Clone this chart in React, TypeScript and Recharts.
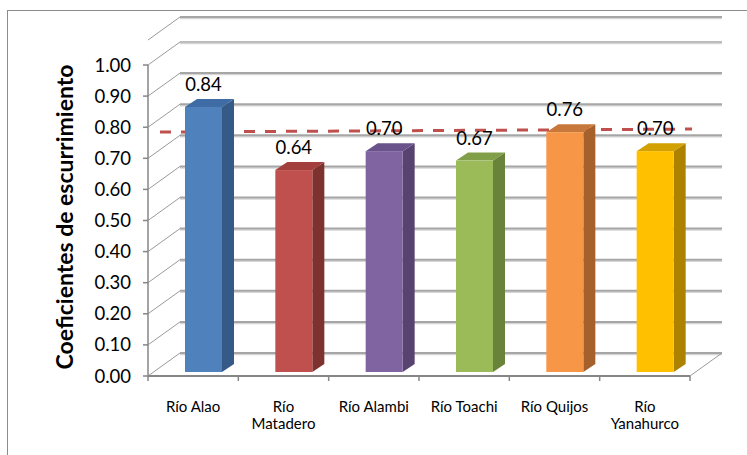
import React from 'react';
import {
  ComposedChart,
  Bar,
  XAxis,
  YAxis,
  CartesianGrid,
  ReferenceLine,
  LabelList,
} from 'recharts';

// ---- data ----
const categories = ['Río Alao', 'Río Matadero', 'Río Alambi', 'Río Toachi', 'Río Quijos', 'Río Yanahurco'];
const coefficients = [0.84, 0.64, 0.7, 0.67, 0.76, 0.7];
const yTicks = [0, 0.1, 0.2, 0.3, 0.4, 0.5, 0.6, 0.7, 0.8, 0.9, 1.0];
const averageCoefficient = 0.72;
const yTitle = 'Coeficientes de escurrimiento';

// ---- styles ----
const frontColors = ['#4F81BD', '#C0504D', '#8064A2', '#9BBB59', '#F79646', '#FFC000'];
const topColors = ['#3F6CA4', '#A3403D', '#6A528A', '#819E48', '#C8783A', '#D2A000'];
const sideColors = ['#355A87', '#7E3230', '#58426F', '#6A833A', '#A5602C', '#AD8200'];
const FONT = 'Lato, "Open Sans", sans-serif';
const AXIS_GRAY = '#868686';
const GRID_GRAY = '#A6A6A6';
const WALL_DX = 32;
const WALL_DY = -23;
const BAR_SHIFT = 10;
const BAR_DEPTH_X = 12;
const BAR_DEPTH_Y = 8;

const data = categories.map((name, i) => ({ name, value: coefficients[i] }));

const Bar3D = (props: any) => {
  const { x, y, width, height, index } = props;
  if (x == null || y == null) return null;
  const fx = x + BAR_SHIFT;
  const dx = BAR_DEPTH_X;
  const dy = BAR_DEPTH_Y;
  return (
    <g>
      <polygon
        points={`${fx + width},${y} ${fx + width + dx},${y - dy} ${fx + width + dx},${y + height - dy} ${fx + width},${y + height}`}
        fill={sideColors[index]}
      />
      <polygon
        points={`${fx},${y} ${fx + dx},${y - dy} ${fx + width + dx},${y - dy} ${fx + width},${y}`}
        fill={topColors[index]}
      />
      <rect x={fx} y={y} width={width} height={height} fill={frontColors[index]} />
    </g>
  );
};

const ValueLabel = (props: any) => {
  const { x, y, width, value } = props;
  return (
    <text
      x={x + BAR_SHIFT + width / 2}
      y={y - 16}
      textAnchor="middle"
      fontSize={18.5}
      fontFamily={FONT}
      fill="#000"
    >
      {Number(value).toFixed(2)}
    </text>
  );
};

const CategoryTick = (props: any) => {
  const { x, y, payload, index, visibleTicksCount } = props;
  const off = payload && payload.offset != null ? payload.offset : 45;
  const label: string = String(payload.value);
  const lines = label.length > 10 ? label.split(' ') : [label];
  return (
    <g>
      <line x1={x - off} y1={y} x2={x - off} y2={y + 5} stroke={AXIS_GRAY} strokeWidth={1.5} />
      {index === visibleTicksCount - 1 && (
        <line x1={x + off} y1={y} x2={x + off} y2={y + 5} stroke={AXIS_GRAY} strokeWidth={1.5} />
      )}
      <text x={x} y={y + 36} textAnchor="middle" fontSize={15} fontFamily={FONT} fill="#000">
        {lines.map((w, i) => (
          <tspan key={i} x={x} dy={i === 0 ? 0 : 17}>
            {w}
          </tspan>
        ))}
      </text>
    </g>
  );
};

const GridLine = (props: any) => {
  const { x1, y1, x2, index, y, height } = props;
  const bottom = y + height;
  const isBottom = Math.abs(y1 - bottom) < 1;
  const isTop = index === yTicks.length - 1;
  const bx1 = x1 + WALL_DX;
  const by = y1 + WALL_DY;
  return (
    <g key={`grid-${index}`}>
      <line x1={x1} y1={y1} x2={bx1} y2={by} stroke="#9A9A9A" strokeWidth={1} />
      <line x1={bx1} y1={by + 1.5} x2={x2} y2={by + 1.5} stroke="#D6D6D6" strokeWidth={1.5} />
      <line x1={bx1} y1={by} x2={x2} y2={by} stroke={isTop ? '#BDBDBD' : GRID_GRAY} strokeWidth={2} />
      {isBottom && (
        <g>
          <line x1={x1} y1={y1} x2={x2 - WALL_DX} y2={y1} stroke={AXIS_GRAY} strokeWidth={2} />
          <line x1={x2 - WALL_DX} y1={y1} x2={x2} y2={by} stroke="#9A9A9A" strokeWidth={1} />
        </g>
      )}
      {isTop && <line x1={x1} y1={y1} x2={x1} y2={bottom} stroke={AXIS_GRAY} strokeWidth={1.5} />}
    </g>
  );
};

const AverageLine = (props: any) => {
  const { x1, y1, x2 } = props;
  return (
    <line
      x1={x1 + 12}
      y1={y1 - 20}
      x2={x2 - 30}
      y2={y1 - 23}
      stroke="#C0504D"
      strokeWidth={3}
      strokeDasharray="11 10"
    />
  );
};

const TitleLabel = () => {
  const cx = 64;
  const cy = 217;
  return (
    <text
      x={cx}
      y={cy}
      transform={`rotate(-90, ${cx}, ${cy})`}
      textAnchor="middle"
      dominantBaseline="central"
      fontSize={23}
      fontWeight="bold"
      fontFamily={FONT}
      fill="#000"
    >
      {yTitle}
    </text>
  );
};

export default function App() {
  return (
    <div
      style={{
        position: 'absolute',
        left: 0,
        top: 0,
        width: 747,
        height: 455,
        overflow: 'hidden',
        background: '#fff',
      }}
    >
      <div
        style={{
          position: 'absolute',
          left: 7,
          top: 10,
          width: 800,
          height: 500,
          border: '1px solid #8C8C8C',
          boxSizing: 'border-box',
        }}
      />
      <div style={{ position: 'absolute', left: 0, top: 0 }}>
        <ComposedChart
          width={747}
          height={455}
          data={data}
          margin={{ top: 40, right: 25, bottom: 19, left: 0 }}
        >
          <CartesianGrid
            xAxisId="cat"
            yAxisId="front"
            vertical={false}
            horizontal={(p: any) => <GridLine {...p} key={`g-${p.index}`} />}
          />
          <XAxis
            xAxisId="cat"
            dataKey="name"
            type="category"
            padding={{ left: 0, right: WALL_DX }}
            axisLine={false}
            tickLine={false}
            tickSize={0}
            tickMargin={0}
            height={60}
            interval={0}
            tick={<CategoryTick />}
          />
          <YAxis
            yAxisId="front"
            type="number"
            domain={[0, 1.0804]}
            allowDataOverflow
            ticks={yTicks}
            interval={0}
            width={148}
            axisLine={false}
            tickLine={{ stroke: AXIS_GRAY, strokeWidth: 1.5 }}
            tickSize={5}
            tickMargin={12}
            tickFormatter={(v: number) => v.toFixed(2)}
            tick={{ fontSize: 18.5, fill: '#000', fontFamily: FONT }}
          />
          <YAxis
            yAxisId="bar"
            type="number"
            hide
            width={0}
            domain={[-0.012678, 1.05229]}
            allowDataOverflow
          />
          <ReferenceLine
            xAxisId="cat"
            yAxisId="front"
            y={averageCoefficient}
            zIndex={250}
            shape={(p: any) => <AverageLine {...p} />}
          />
          <Bar
            xAxisId="cat"
            yAxisId="bar"
            dataKey="value"
            barSize={37}
            shape={<Bar3D />}
            isAnimationActive={false}
          >
            <LabelList dataKey="value" content={<ValueLabel />} />
          </Bar>
        </ComposedChart>
      </div>
      <svg
        width={747}
        height={455}
        style={{ position: 'absolute', left: 0, top: 0, pointerEvents: 'none' }}
      >
        <TitleLabel />
      </svg>
    </div>
  );
}
